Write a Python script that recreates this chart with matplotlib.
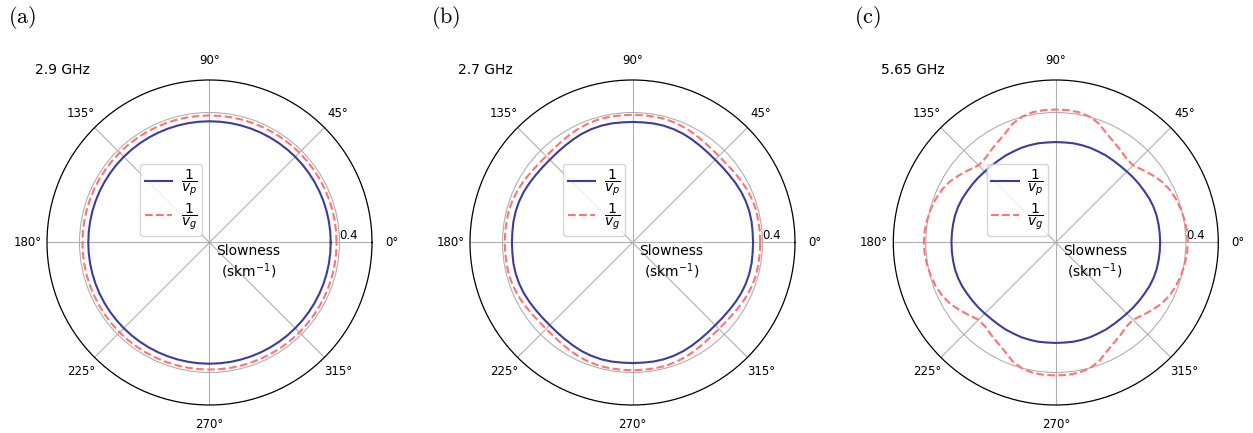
import numpy as np
import matplotlib
matplotlib.use('Agg')
import matplotlib.pyplot as plt

# angles of the quarter (degrees), the rest is mirrored
angles_q = list(range(0, 91, 5))

# slowness (s/km) read at angles_q for each panel
vp_a = [0.373, 0.373, 0.373, 0.373, 0.373, 0.373, 0.373, 0.373, 0.373, 0.373,
        0.373, 0.373, 0.373, 0.373, 0.373, 0.373, 0.373, 0.373, 0.373]
vg_a = [0.391, 0.391, 0.391, 0.391, 0.391, 0.391, 0.391, 0.391, 0.391, 0.391,
        0.391, 0.391, 0.391, 0.391, 0.391, 0.391, 0.391, 0.391, 0.391]

vp_b = [0.371, 0.371, 0.372, 0.372, 0.371, 0.369, 0.366, 0.363, 0.361, 0.360,
        0.361, 0.363, 0.366, 0.369, 0.371, 0.372, 0.372, 0.371, 0.371]
vg_b = [0.393, 0.393, 0.393, 0.393, 0.391, 0.388, 0.384, 0.380, 0.377, 0.376,
        0.377, 0.380, 0.384, 0.388, 0.391, 0.393, 0.393, 0.393, 0.393]

vp_c = [0.321, 0.321, 0.321, 0.321, 0.320, 0.318, 0.315, 0.313, 0.311, 0.309,
        0.308, 0.308, 0.309, 0.309, 0.310, 0.310, 0.310, 0.309, 0.309]
vg_c = [0.406, 0.405, 0.402, 0.398, 0.393, 0.386, 0.376, 0.362, 0.348, 0.336,
        0.338, 0.347, 0.357, 0.370, 0.389, 0.401, 0.407, 0.409, 0.409]

freqs = ['2.9 GHz', '2.7 GHz', '5.65 GHz']
panel_labels = ['(a)', '(b)', '(c)']
vp_all = [vp_a, vp_b, vp_c]
vg_all = [vg_a, vg_b, vg_c]


def full_circle(q):
    # mirror the 0-90 quarter about 90 and 180 degrees
    half = list(q) + list(q[::-1][1:])
    return half + half[1:]


theta = np.deg2rad(np.arange(0, 361, 5))

fig = plt.figure(figsize=(12.53, 4.33), dpi=100)

lefts = [47 / 1253, 470 / 1253, 893.3 / 1253]
w = 325 / 1253
h = 325 / 433
bottom = 28 / 433

for i in range(3):
    ax = fig.add_axes([lefts[i], bottom, w, h], projection='polar')
    ax.plot(theta, full_circle(vp_all[i]), color='#3c3c9c', lw=1.5, label=r'$\dfrac{1}{v_p}$')
    ax.plot(theta, full_circle(vg_all[i]), color='#ff7373', lw=1.5, ls='--', label=r'$\dfrac{1}{v_g}$')
    ax.set_ylim(0, 0.5)
    ax.set_yticks([0.4])
    ax.set_rlabel_position(0.3)
    ax.tick_params(labelsize=8.5)
    ax.grid(True, color='#b0b0b0', lw=0.8)
    ax.spines['polar'].set_linewidth(0.9)
    ax.legend(loc='lower right', bbox_to_anchor=(0.476, 0.52), fontsize=10, borderaxespad=0,
              labelspacing=0.2, borderpad=0.3, handletextpad=0.6)
    ax.text(0.62, 0.494, 'Slowness\n(skm$^{-1}$)', transform=ax.transAxes,
            ha='center', va='top', fontsize=10, multialignment='center')
    ax.text(-0.037, 1.031, freqs[i], transform=ax.transAxes, ha='left', va='center', fontsize=10)
    fig.text(lefts[i] - 39 / 1253, 1 - 4 / 433, r'$\mathrm{' + panel_labels[i] + '}$',
             ha='left', va='top', fontsize=16, math_fontfamily='cm')

plt.savefig('out.png', dpi=100)
